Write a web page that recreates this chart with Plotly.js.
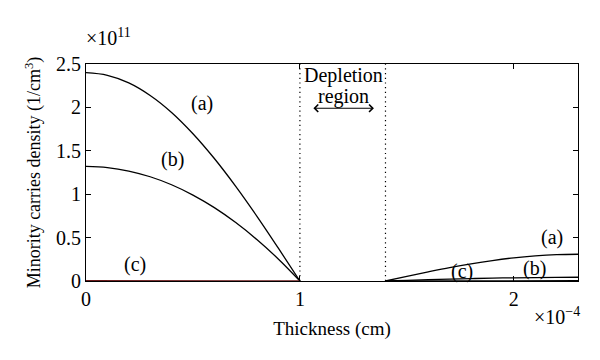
<!DOCTYPE html>
<html>
<head>
<meta charset="utf-8">
<script src="https://cdn.plot.ly/plotly-3.0.1.min.js"></script>
<style>html,body{margin:0;padding:0;background:#fff;}#chart{width:600px;height:360px;}</style>
</head>
<body>
<div id="chart"></div>
<script>
// x in units of 1e-4 cm, y in units of 1e11 1/cm^3
const xLeft = [0, 0.1, 0.2, 0.3, 0.4, 0.5, 0.6, 0.7, 0.8, 0.9, 1.0];
const aLeft = [2.40, 2.37, 2.283, 2.138, 1.942, 1.697, 1.411, 1.09, 0.742, 0.375, 0];
const bLeft = [1.32, 1.307, 1.267, 1.201, 1.109, 0.99, 0.845, 0.673, 0.475, 0.251, 0];
const cLeft = [0.003, 0.003, 0.003, 0.003, 0.003, 0.002, 0.002, 0.002, 0.001, 0.001, 0];
const xRight = [1.4, 1.5, 1.6, 1.7, 1.8, 1.9, 2.0, 2.1, 2.2, 2.3];
const aRight = [0, 0.0535, 0.105, 0.154, 0.198, 0.236, 0.267, 0.289, 0.303, 0.308];
const bRight = [0, 0.0075, 0.0147, 0.0215, 0.0276, 0.033, 0.037, 0.040, 0.042, 0.043];
const cRight = [0, 0.0005, 0.001, 0.0015, 0.002, 0.0023, 0.0026, 0.0028, 0.0029, 0.003];
const depletionBounds = [1.0, 1.4];
const xTicks = [0, 1, 2];
const xTickText = ['0', '1', '2'];
const yTicks = [0, 0.5, 1, 1.5, 2, 2.5];
const yTickText = ['0', '0.5', '1', '1.5', '2', '2.5'];
const curveLabels = [
  {text: '(a)', x: 0.54, y: 2.05},
  {text: '(b)', x: 0.404, y: 1.40},
  {text: '(c)', x: 0.231, y: 0.19},
  {text: '(a)', x: 2.18, y: 0.50},
  {text: '(c)', x: 1.758, y: 0.11},
  {text: '(b)', x: 2.095, y: 0.145}
];
const depletionText = {line1: 'Depletion', line2: 'region', x: 1.205, y1: 2.37, y2: 2.12, arrowY: 1.99, arrowFrom: 1.056, arrowTo: 1.346};

const F = 'Liberation Serif, Times New Roman, serif';
const FS = 20;
const traces = [
  {x: xLeft, y: aLeft, mode: 'lines', line: {color: '#000', width: 1.3, shape: 'spline'}},
  {x: xLeft, y: bLeft, mode: 'lines', line: {color: '#000', width: 1.3, shape: 'spline'}},
  {x: xLeft, y: cLeft, mode: 'lines', line: {color: '#6a1a1a', width: 1.3}},
  {x: xRight, y: aRight, mode: 'lines', line: {color: '#000', width: 1.3, shape: 'spline'}},
  {x: xRight, y: bRight, mode: 'lines', line: {color: '#000', width: 1.3, shape: 'spline'}},
  {x: xRight, y: cRight, mode: 'lines', line: {color: '#000', width: 1.3}}
];

const annotations = curveLabels.map(l => ({
  text: l.text, x: l.x, y: l.y, xref: 'x', yref: 'y', showarrow: false,
  font: {family: F, size: FS, color: '#000'}
}));
annotations.push({text: depletionText.line1, x: depletionText.x, y: depletionText.y1, xref: 'x', yref: 'y', showarrow: false, font: {family: F, size: FS, color: '#000'}});
annotations.push({text: depletionText.line2, x: depletionText.x, y: depletionText.y2, xref: 'x', yref: 'y', showarrow: false, font: {family: F, size: FS, color: '#000'}});
annotations.push({text: ' ', x: depletionText.arrowTo, y: depletionText.arrowY, ax: depletionText.arrowFrom, ay: depletionText.arrowY,
  xref: 'x', yref: 'y', axref: 'x', ayref: 'y', showarrow: true, arrowhead: 4, arrowside: 'end+start', arrowsize: 1.3, arrowwidth: 1.1, arrowcolor: '#000', font: {size: 1}});
annotations.push({text: '×10<sup>11</sup>', x: 0, y: 1, xref: 'paper', yref: 'paper', xanchor: 'left', yanchor: 'bottom', yshift: 13, xshift: -2, showarrow: false, font: {family: F, size: FS, color: '#000'}});
annotations.push({text: '×10<sup>−4</sup>', x: 1, y: 0, xref: 'paper', yref: 'paper', xanchor: 'right', yanchor: 'top', yshift: -21, xshift: 4, showarrow: false, font: {family: F, size: FS, color: '#000'}});

const shapes = depletionBounds.map(b => ({
  type: 'line', xref: 'x', yref: 'paper', x0: b, x1: b, y0: 0, y1: 1,
  line: {color: '#000', width: 1.2, dash: '1.2px,3.5px'}
}));

const layout = {
  width: 600, height: 360,
  margin: {l: 86, r: 22, t: 64, b: 79},
  paper_bgcolor: '#fff', plot_bgcolor: '#fff',
  showlegend: false,
  font: {family: F, size: FS, color: '#000'},
  xaxis: {
    range: [0, 2.3], tickvals: xTicks, ticktext: xTickText,
    showgrid: false, zeroline: false, showline: true, mirror: 'ticks',
    linecolor: '#000', linewidth: 1, ticks: 'inside', ticklen: 5, tickcolor: '#000',
    tickfont: {family: F, size: FS, color: '#000'},
    title: {text: 'Thickness (cm)', font: {family: F, size: 19, color: '#000'}, standoff: 12}
  },
  yaxis: {
    range: [0, 2.5], tickvals: yTicks, ticktext: yTickText,
    showgrid: false, zeroline: false, showline: true, mirror: 'ticks',
    linecolor: '#000', linewidth: 1, ticks: 'inside', ticklen: 5, tickcolor: '#000',
    tickfont: {family: F, size: FS, color: '#000'},
    title: {text: 'Minority carries density (1/cm<sup>3</sup>)', font: {family: F, size: 18, color: '#000'}, standoff: 10}
  },
  annotations: annotations,
  shapes: shapes
};

Plotly.newPlot('chart', traces, layout, {displayModeBar: false, staticPlot: true});
</script>
</body>
</html>
